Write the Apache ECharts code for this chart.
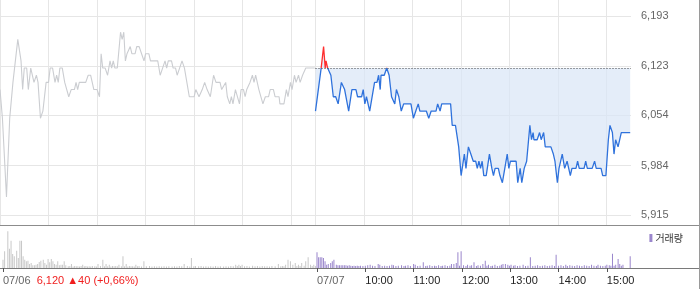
<!DOCTYPE html>
<html>
<head>
<meta charset="utf-8">
<script src="https://cdn.jsdelivr.net/npm/echarts@6/dist/echarts.min.js"></script>
<style>
html,body{margin:0;padding:0;background:#fff;}
#chart{width:700px;height:289px;}
</style>
</head>
<body>
<div id="chart"></div>
<script>
// 전일 종가 / 축 눈금
var prevClose = 6120;
var closeText = '6,120 ▲40 (+0,66%)';
var priceTicks = [5915, 5984, 6054, 6123, 6193];
var hourLines = [0, 60, 120, 180, 240, 300, 360, 390, 450, 510, 570, 630, 690, 750];
var timeTicks = [0, 390, 450, 510, 570, 630, 690, 750];
var timeLabels = ['07/06', '07/07', '10:00', '11:00', '12:00', '13:00', '14:00', '15:00'];

// [분(09:00 기준), 가격]
var day1Price = [[0,6090],[3,6050],[8,5940],[12,6050],[14,6050],[16,6100],[22,6160],[26,6130],[28,6090],[30,6120],[33,6120],[35,6090],[38,6120],[40,6120],[42,6100],[45,6110],[47,6100],[50,6050],[53,6060],[55,6060],[57,6100],[60,6100],[62,6120],[65,6120],[68,6100],[70,6110],[72,6100],[74,6120],[77,6120],[80,6100],[85,6080],[88,6090],[92,6090],[94,6100],[96,6090],[98,6100],[106,6100],[109,6110],[112,6110],[116,6090],[120,6090],[123,6080],[125,6140],[127,6120],[130,6120],[133,6110],[136,6130],[138,6120],[140,6130],[142,6120],[145,6120],[149,6170],[151,6160],[153,6170],[155,6130],[157,6140],[159,6140],[161,6150],[163,6140],[167,6140],[169,6150],[172,6150],[175,6140],[178,6130],[180,6140],[184,6140],[186,6130],[195,6130],[198,6110],[201,6120],[204,6130],[206,6120],[208,6130],[212,6130],[214,6120],[217,6120],[219,6110],[222,6120],[225,6130],[228,6120],[231,6100],[234,6080],[240,6080],[242,6090],[246,6080],[250,6090],[253,6100],[256,6090],[260,6080],[264,6110],[267,6100],[272,6100],[274,6090],[279,6100],[281,6080],[284,6070],[286,6080],[288,6070],[291,6090],[293,6090],[296,6070],[298,6090],[301,6090],[303,6080],[305,6090],[309,6100],[312,6110],[314,6100],[316,6110],[318,6100],[320,6090],[322,6090],[325,6070],[328,6080],[332,6080],[334,6090],[338,6090],[340,6080],[345,6080],[346,6070],[351,6070],[354,6090],[356,6080],[359,6100],[361,6090],[364,6110],[366,6100],[369,6110],[371,6100],[374,6110],[378,6120],[389,6120]];

var day2Price = [[390,6060],[397,6120],[400,6150],[402,6120],[403,6130],[405,6120],[407,6120],[409,6110],[412,6080],[415,6080],[418,6070],[422,6100],[424,6100],[426,6090],[431,6060],[435,6090],[440,6090],[442,6080],[447,6080],[449,6090],[451,6070],[453,6080],[457,6060],[463,6100],[466,6100],[468,6110],[470,6090],[471,6110],[475,6110],[478,6120],[481,6110],[484,6080],[486,6080],[488,6070],[490,6090],[493,6080],[496,6060],[499,6070],[508,6070],[511,6050],[514,6060],[517,6070],[519,6060],[527,6060],[530,6050],[533,6060],[539,6060],[541,6070],[544,6060],[546,6070],[557,6070],[559,6040],[563,6040],[567,6010],[570,5970],[572,5970],[574,6000],[576,5980],[579,6010],[582,6000],[585,5990],[588,5990],[590,5980],[592,5990],[594,5980],[596,5990],[598,5970],[601,5970],[605,6000],[608,5980],[610,5970],[612,5980],[616,5980],[618,5970],[621,5960],[624,5980],[627,6000],[629,5980],[631,5990],[638,5990],[640,5960],[643,5980],[645,5960],[648,5980],[651,5990],[653,5990],[655,6040],[657,6020],[659,6030],[660,6020],[664,6020],[667,6030],[669,6020],[672,6030],[674,6010],[681,6010],[684,6000],[686,5990],[689,5960],[691,5980],[695,6000],[698,5980],[701,5990],[703,5980],[705,5970],[707,5980],[712,5980],[714,5990],[716,5980],[722,5980],[724,5990],[726,5980],[732,5980],[735,5990],[737,5980],[743,5980],[745,5970],[749,5970],[752,6020],[754,6040],[757,6030],[759,6000],[761,6020],[764,6010],[768,6030],[779,6030]];

// [분, 거래량]
var day1Volume = [[0,8300],[2,16700],[6,36700],[8,19300],[10,27300],[12,14000],[14,11700],[17,17300],[19,10000],[21,27300],[23,27300],[25,11700],[27,8300],[29,6700],[31,7300],[33,4000],[35,5000],[37,2700],[39,2700],[41,3300],[43,4000],[45,6000],[47,7300],[50,8300],[52,5000],[54,3300],[56,9000],[58,5700],[60,9000],[62,6700],[64,4000],[66,3300],[68,6700],[70,2700],[72,3300],[74,3300],[76,6700],[78,2700],[81,1700],[83,2000],[85,4000],[87,1500],[89,2000],[91,1700],[93,1700],[95,1500],[97,2000],[99,3300],[101,1700],[103,2000],[105,1500],[107,1700],[109,1500],[111,2000],[114,1700],[116,1500],[118,4000],[121,2000],[124,8300],[126,1700],[128,4000],[130,1700],[132,3300],[134,1500],[136,2000],[138,1700],[140,2000],[142,1700],[144,3300],[147,1700],[149,11700],[151,1700],[153,4000],[155,1500],[157,2000],[159,1700],[161,1700],[163,1500],[165,3300],[167,1700],[169,2000],[172,1500],[175,6700],[178,1700],[182,2000],[185,1500],[188,1700],[191,1500],[194,1700],[197,1500],[200,1700],[203,1500],[206,1700],[210,1500],[213,1700],[216,1500],[219,2000],[222,1700],[225,4000],[229,2000],[232,1500],[234,10000],[237,1700],[239,2000],[243,1700],[246,2000],[249,1500],[252,1700],[255,1500],[258,1700],[261,1500],[264,2000],[267,1500],[270,1700],[274,1500],[277,1700],[280,1500],[283,2000],[286,1700],[289,3300],[291,2000],[293,3300],[295,2000],[297,3300],[300,1700],[303,2000],[306,1500],[310,2300],[313,1700],[316,2000],[319,1500],[322,2000],[325,1700],[328,1700],[331,1500],[334,2000],[338,1700],[342,4000],[345,1700],[347,2000],[349,1700],[351,3300],[354,8300],[357,6700],[360,3300],[363,5000],[365,2000],[367,3300],[369,2000],[371,5000],[374,2300],[376,6700],[379,10700],[382,3300],[384,2000],[386,3300],[388,2000]];

var day2Volume = [[390,15700],[392,10700],[394,10700],[396,10700],[398,10000],[400,6700],[402,3300],[404,4000],[407,5000],[409,6700],[411,8300],[414,3300],[416,2700],[418,2700],[420,2700],[422,2700],[424,2700],[426,2700],[428,2300],[430,2700],[432,2300],[434,2000],[436,2300],[438,2000],[440,2300],[442,2000],[444,2300],[447,2000],[450,2300],[453,2700],[456,3300],[459,2300],[462,2000],[466,4000],[468,3300],[471,2000],[474,2300],[477,2000],[480,2300],[483,3300],[485,2700],[488,2000],[491,2300],[495,2700],[498,2000],[500,2300],[503,2700],[506,2000],[510,4000],[512,3300],[515,2000],[518,2300],[522,5700],[525,2000],[527,2300],[530,2700],[533,2000],[536,2300],[538,2000],[541,2700],[544,2000],[546,2300],[549,2700],[552,2000],[555,2300],[557,4000],[560,4000],[563,5000],[565,15700],[567,2300],[569,16700],[572,2700],[575,2000],[577,3300],[580,2300],[582,2700],[585,5700],[588,2000],[590,2700],[593,2300],[596,4000],[599,7300],[601,2300],[603,3300],[606,2000],[608,2300],[611,3300],[614,2000],[617,2300],[619,3300],[621,4000],[624,4000],[627,3300],[629,2300],[631,3300],[634,2300],[636,2700],[639,2000],[642,2300],[646,3300],[649,2000],[652,2300],[655,10700],[658,2000],[661,2300],[664,2700],[667,2000],[670,2300],[673,2700],[676,2000],[679,2300],[682,2700],[685,2000],[687,13300],[690,2300],[693,2700],[696,2000],[699,3300],[701,2000],[704,2700],[707,2300],[710,2000],[713,2700],[716,2300],[719,2000],[722,2700],[725,2300],[728,2000],[731,3300],[734,2300],[737,2000],[739,3300],[742,2300],[745,2000],[748,2300],[750,3300],[753,2700],[755,2300],[757,14300],[759,2300],[761,3300],[764,9000],[766,4000],[768,2300],[770,3300],[779,11700]];

var font = 'Liberation Sans, Arial, sans-serif';

var chart = echarts.init(document.getElementById('chart'));
chart.setOption({
    animation: false,
    grid: [
        {left: 0, right: 69, top: 0, height: 225},
        {left: 0, right: 69, top: 228, height: 40}
    ],
    legend: {
        data: ['거래량'],
        right: 12,
        top: 228,
        icon: 'rect',
        itemWidth: 3,
        itemHeight: 8,
        selectedMode: false,
        textStyle: {fontSize: 10, color: '#333', fontFamily: 'Noto Sans CJK KR', padding: [0, 0, 0, -2]}
    },
    visualMap: {
        type: 'piecewise',
        show: false,
        seriesIndex: 1,
        dimension: 1,
        pieces: [
            {gt: prevClose, lte: 6400, color: '#ff2f2f'},
            {gt: 5700, lte: prevClose, color: '#2f72dc'}
        ]
    },
    xAxis: [{
        gridIndex: 0, type: 'value', min: 0, max: 780,
        axisLine: {show: false},
        axisTick: {show: false, customValues: hourLines},
        axisLabel: {show: false},
        splitLine: {show: true, lineStyle: {color: '#e6e6e6'}}
    }, {
        gridIndex: 1, type: 'value', min: 0, max: 780,
        axisLine: {show: false},
        axisTick: {show: true, length: 4, customValues: timeTicks, lineStyle: {color: '#555'}},
        axisLabel: {
            customValues: timeTicks,
            align: 'left',
            margin: 7,
            fontSize: 11,
            fontFamily: font,
            formatter: function(v){
                var i = timeTicks.indexOf(v);
                if(i == 0){
                    return '{d|' + timeLabels[0] + '}  {r|' + closeText + '}';
                }
                if(i == 1){
                    return '{d|' + timeLabels[1] + '}';
                }
                return '{t|' + timeLabels[i] + '}';
            },
            rich: {
                d: {color: '#666', fontSize: 11, fontFamily: font},
                r: {color: '#f01e1e', fontSize: 11, fontFamily: font},
                t: {color: '#222', fontSize: 11, fontFamily: font}
            }
        },
        splitLine: {show: false}
    }],
    yAxis: [{
        gridIndex: 0, type: 'value', position: 'right', min: 5901, max: 6215,
        axisLine: {show: false},
        axisTick: {show: false, customValues: priceTicks},
        axisLabel: {
            customValues: priceTicks,
            margin: 10,
            color: '#666',
            fontSize: 11,
            fontFamily: font,
            formatter: function(v){ return v.toLocaleString('en-US'); }
        },
        splitLine: {show: true, lineStyle: {color: '#e6e6e6'}}
    }, {
        gridIndex: 1, type: 'value', min: 0, max: 40000, show: false
    }],
    series: [{
        name: '07/06',
        type: 'line',
        xAxisIndex: 0, yAxisIndex: 0,
        data: day1Price,
        showSymbol: false,
        silent: true,
        lineStyle: {color: '#cbcdd1', width: 1.1}
    }, {
        name: '07/07',
        type: 'line',
        xAxisIndex: 0, yAxisIndex: 0,
        data: day2Price,
        showSymbol: false,
        silent: true,
        lineStyle: {width: 1.3},
        areaStyle: {origin: prevClose, color: '#d9e5f6', opacity: 0.7}
    }, {
        name: 'prevClose',
        type: 'line',
        xAxisIndex: 0, yAxisIndex: 0,
        data: [],
        silent: true,
        markLine: {
            silent: true,
            symbol: 'none',
            label: {show: false},
            lineStyle: {type: [1, 2], color: '#444', width: 1},
            data: [[{xAxis: 390, yAxis: prevClose}, {xAxis: 780, yAxis: prevClose}]]
        }
    }, {
        name: 'vol0706',
        type: 'bar',
        xAxisIndex: 1, yAxisIndex: 1,
        data: day1Volume,
        barWidth: 1,
        barGap: '-100%',
        silent: true,
        itemStyle: {color: '#c8c8c8'}
    }, {
        name: '거래량',
        type: 'bar',
        xAxisIndex: 1, yAxisIndex: 1,
        data: day2Volume,
        barWidth: 1,
        barGap: '-100%',
        silent: true,
        itemStyle: {color: '#9a86cc'}
    }],
    graphic: [
        {type: 'line', silent: true, shape: {x1: 0, y1: 225.5, x2: 700, y2: 225.5}, style: {stroke: '#8c8c8c', lineWidth: 1}},
        {type: 'line', silent: true, shape: {x1: 0, y1: 268.5, x2: 700, y2: 268.5}, style: {stroke: '#7a7a7a', lineWidth: 1}},
        {type: 'line', silent: true, shape: {x1: 699.5, y1: 0, x2: 699.5, y2: 289}, style: {stroke: '#9a9a9a', lineWidth: 1}}
    ]
});
</script>
</body>
</html>
